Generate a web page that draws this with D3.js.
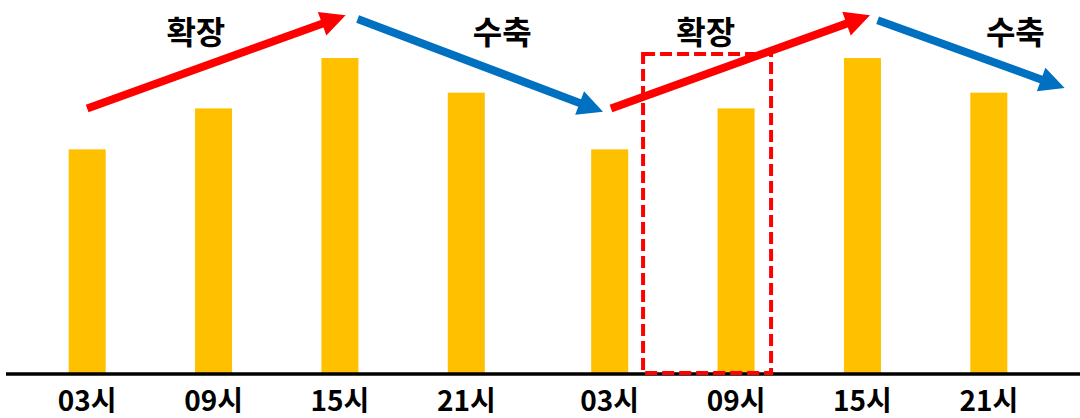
<!DOCTYPE html>
<html>
<head>
<meta charset="utf-8">
<script src="https://cdn.jsdelivr.net/npm/d3@7"></script>
<style>
  body { margin: 0; background: #ffffff; }
  svg { display: block; }
</style>
</head>
<body>
<div id="chart"></div>
<script>

// data
const DAYS = ["day1", "day2"];
const HOURS = ["03시", "09시", "15시", "21시"];
const VALUES = [71, 84, 100, 89];   // same daily cycle repeated each day

// annotations: [bar index, offset in steps, value]
const ARROWS = [
  {color: "#FF0000", from: [0, 0.0, 84], to: [2, 0.045, 113.6]},
  {color: "#0070C0", from: [2, 0.14, 112.4], to: [4, -0.053, 82.9]},
  {color: "#FF0000", from: [4, 0.01, 84], to: [6, 0.06, 113.6]},
  {color: "#0070C0", from: [6, 0.12, 112], to: [7, 0.6, 90.5]}
];
const PHASE_LABELS = [
  {text: "확장", at: [1, -0.14, 104.5]},
  {text: "수축", at: [3, 0.285, 104.5]},
  {text: "확장", at: [5, -0.24, 104.5]},
  {text: "수축", at: [7, 0.21, 104.5]}
];
const HIGHLIGHT = {from: [4, 0.264], to: [5, 0.277], top: 101.3};

// constants
const FRAME_WIDTH = 1080;
const FRAME_HEIGHT = 418;
const BASE_Y = 373;
const TOP_Y = 58;

const FRAME = d3.select("#chart")
  .append("svg")
    .attr("width", FRAME_WIDTH)
    .attr("height", FRAME_HEIGHT);

// scales
const DAY_SCALE = d3.scaleBand()
  .domain(DAYS)
  .range([24, 1052])
  .paddingInner(0.0326);

const HOUR_SCALE = d3.scaleBand()
  .domain(HOURS)
  .range([0, DAY_SCALE.bandwidth()])
  .paddingInner(0.707)
  .paddingOuter(0.3535);

const Y_SCALE = d3.scaleLinear()
  .domain([0, 100])
  .range([BASE_Y, TOP_Y]);

const STEP = HOUR_SCALE.step();

// flatten both days into one list of bars
const bars = [];
DAYS.forEach((day) => {
  HOURS.forEach((h, i) => {
    bars.push({day: day, hour: h, value: VALUES[i]});
  });
});

function barCenter(i) {
  const b = bars[i];
  return DAY_SCALE(b.day) + HOUR_SCALE(b.hour) + HOUR_SCALE.bandwidth() / 2;
}

function xAt(i, off) {
  return barCenter(i) + off * STEP;
}

// bars
FRAME.selectAll(".bar")
  .data(bars)
  .enter()
  .append("rect")
    .attr("class", "bar")
    .attr("x", (d) => DAY_SCALE(d.day) + HOUR_SCALE(d.hour))
    .attr("y", (d) => Y_SCALE(d.value))
    .attr("width", HOUR_SCALE.bandwidth())
    .attr("height", (d) => Y_SCALE(0) - Y_SCALE(d.value))
    .attr("fill", "#FFC000");

// x axis line
FRAME.append("line")
  .attr("x1", 6)
  .attr("x2", FRAME_WIDTH)
  .attr("y1", BASE_Y + 1)
  .attr("y2", BASE_Y + 1)
  .attr("stroke", "#000")
  .attr("stroke-width", 3.5);

// hour labels
FRAME.selectAll(".xlabel")
  .data(bars)
  .enter()
  .append("text")
    .attr("class", "xlabel")
    .attr("x", (d, i) => barCenter(i))
    .attr("y", 411)
    .attr("text-anchor", "middle")
    .attr("font-family", "'Noto Sans CJK KR', 'Noto Sans', sans-serif")
    .attr("font-weight", "bold")
    .attr("font-size", "28px")
    .attr("fill", "#000")
    .text((d) => d.hour);

// dashed highlight box
const hx1 = xAt(HIGHLIGHT.from[0], HIGHLIGHT.from[1]);
const hx2 = xAt(HIGHLIGHT.to[0], HIGHLIGHT.to[1]);
FRAME.append("rect")
  .attr("x", hx1)
  .attr("y", Y_SCALE(HIGHLIGHT.top))
  .attr("width", hx2 - hx1)
  .attr("height", Y_SCALE(0) - Y_SCALE(HIGHLIGHT.top))
  .attr("fill", "none")
  .attr("stroke", "#FF0000")
  .attr("stroke-width", 4)
  .attr("stroke-dasharray", "12,5");

// arrows as polygons
function arrowPoints(a) {
  const tx = xAt(a.from[0], a.from[1]), ty = Y_SCALE(a.from[2]);
  const px = xAt(a.to[0], a.to[1]), py = Y_SCALE(a.to[2]);
  const len = Math.hypot(px - tx, py - ty);
  const ux = (px - tx) / len, uy = (py - ty) / len;
  const nx = -uy, ny = ux;
  const w = 4, hw = 12.5, hl = 25;
  const bx = px - ux * hl, by = py - uy * hl;
  return [
    [tx + nx * w, ty + ny * w],
    [bx + nx * w, by + ny * w],
    [bx + nx * hw, by + ny * hw],
    [px, py],
    [bx - nx * hw, by - ny * hw],
    [bx - nx * w, by - ny * w],
    [tx - nx * w, ty - ny * w]
  ];
}

FRAME.selectAll(".arrow")
  .data(ARROWS)
  .enter()
  .append("polygon")
    .attr("class", "arrow")
    .attr("points", (d) => arrowPoints(d).map((p) => p.join(",")).join(" "))
    .attr("fill", (d) => d.color);

// phase labels
FRAME.selectAll(".phase")
  .data(PHASE_LABELS)
  .enter()
  .append("text")
    .attr("class", "phase")
    .attr("x", (d) => xAt(d.at[0], d.at[1]))
    .attr("y", (d) => Y_SCALE(d.at[2]))
    .attr("text-anchor", "middle")
    .attr("font-family", "'Noto Sans CJK KR', sans-serif")
    .attr("font-weight", "bold")
    .attr("font-size", "32px")
    .attr("fill", "#000")
    .text((d) => d.text);

</script>
</body>
</html>
